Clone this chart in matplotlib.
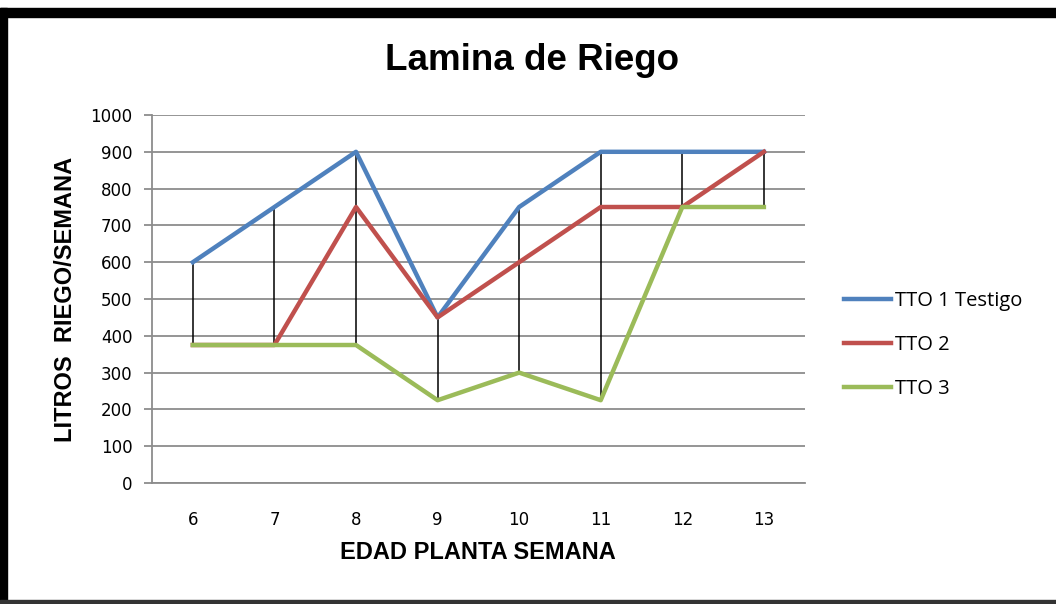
import matplotlib.pyplot as plt
import numpy as np
from matplotlib.patches import Rectangle

# semanas de edad de la planta
weeks = ["6", "7", "8", "9", "10", "11", "12", "13"]
tto1 = [600, 750, 900, 450, 750, 900, 900, 900]
tto2 = [375, 375, 750, 450, 600, 750, 750, 900]
tto3 = [375, 375, 375, 225, 300, 225, 750, 750]

narrow = ['Liberation Sans Narrow', 'Liberation Sans', 'DejaVu Sans']

fig = plt.figure(figsize=(10.56, 6.04), dpi=100)
ax = fig.add_axes([0.144, 0.2003, 0.618, 0.6093])

x = np.arange(len(weeks))
# lineas max-min (estilo Excel)
allv = np.array([tto1, tto2, tto3])
ax.vlines(x, allv.min(axis=0), allv.max(axis=0), color='black', lw=1.1, zorder=2)

ax.plot(x, tto1, color='#4F81BD', lw=3.2, label='TTO 1 Testigo', zorder=3)
ax.plot(x, tto2, color='#C0504D', lw=3.2, label='TTO 2', zorder=3)
ax.plot(x, tto3, color='#9BBB59', lw=3.2, label='TTO 3', zorder=3)

ax.set_xlim(-0.5, len(weeks) - 0.5)
ax.set_ylim(0, 1000)
ax.set_yticks(range(0, 1001, 100))
ax.set_xticks(x)
ax.set_xticklabels(weeks)
ax.yaxis.grid(True, color='#8c8c8c', lw=1.3)
ax.set_axisbelow(True)
for s in ['top', 'right']:
    ax.spines[s].set_visible(False)
ax.spines['left'].set_color('#8c8c8c')
ax.spines['left'].set_linewidth(1.3)
ax.spines['bottom'].set_color('#8c8c8c')
ax.spines['bottom'].set_linewidth(1.3)
ax.tick_params(axis='y', length=6, width=1.3, color='#8c8c8c', labelsize=12, pad=8)
ax.tick_params(axis='x', length=0, labelsize=12, pad=20)

ax.set_xlabel('EDAD PLANTA SEMANA', fontsize=17, fontweight='bold', family=narrow, labelpad=9)
ax.set_ylabel('LITROS  RIEGO/SEMANA', fontsize=17, fontweight='bold', family=narrow, labelpad=10)
fig.text(0.504, 0.9, 'Lamina de Riego', ha='center', va='center', fontsize=26.5,
         fontweight='bold', family=narrow)

ax.legend(loc='center left', bbox_to_anchor=(1.032, 0.375), frameon=False,
          handlelength=2.35, handletextpad=0.2, labelspacing=1.2,
          prop={'family': ['Open Sans', 'DejaVu Sans'], 'size': 14.5})

# marco negro
fig.add_artist(Rectangle((0, 0), 7 / 1056, 596 / 604, transform=fig.transFigure, color='black'))
fig.add_artist(Rectangle((0, 587 / 604), 1, 9 / 604, transform=fig.transFigure, color='black'))
fig.add_artist(Rectangle((0, 0), 1, 4 / 604, transform=fig.transFigure, color='#333333'))

fig.savefig('out.png', dpi=100)
